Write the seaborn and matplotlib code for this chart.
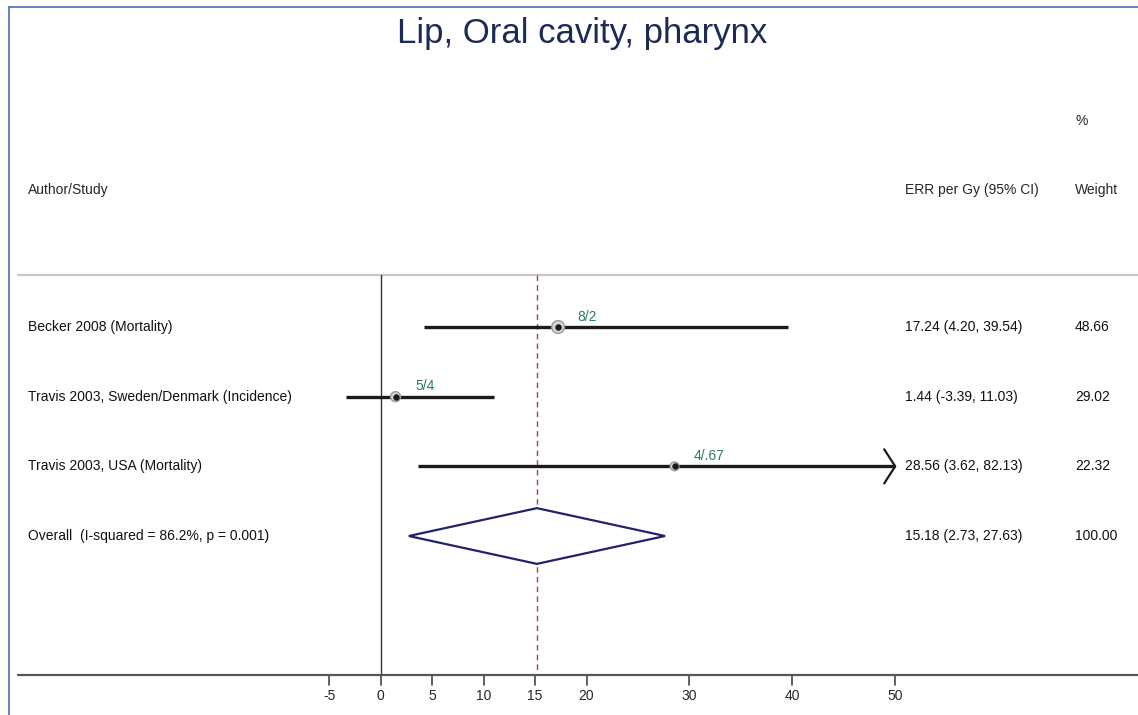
import numpy as np
import pandas as pd
import matplotlib
matplotlib.use("Agg")
import matplotlib.pyplot as plt
from matplotlib.lines import Line2D
import seaborn as sns

# ---- data ----
studies = ["Becker 2008 (Mortality)",
           "Travis 2003, Sweden/Denmark (Incidence)",
           "Travis 2003, USA (Mortality)"]
err = [17.24, 1.44, 28.56]
ci_low = [4.20, -3.39, 3.62]
ci_high = [39.54, 11.03, 82.13]
weights = [48.66, 29.02, 22.32]
point_labels = ["8/2", "5/4", "4/.67"]
overall_label = "Overall  (I-squared = 86.2%, p = 0.001)"
overall_est = 15.18
overall_low = 2.73
overall_high = 27.63
overall_weight = 100.00
xticks = [-5, 0, 5, 10, 15, 20, 30, 40, 50]
title = "Lip, Oral cavity, pharynx"

sns.set_style("white")
plt.rcParams['font.family'] = ['Liberation Sans', 'DejaVu Sans']

W, H = 1138, 715
fig = plt.figure(figsize=(W / 100, H / 100), dpi=100)
ax = fig.add_axes([0, 0, 1, 1])

# pixel -> data mapping
x0px, xscale = 380.7, 10.29
row0px, rowstep = 327.0, 69.67
xmin, xmax = -x0px / xscale, (W - x0px) / xscale
ax.set_xlim(xmin, xmax)
ax.set_ylim((H - row0px) / rowstep, -row0px / rowstep)
def ypx(p):
    return (p - row0px) / rowstep
def xpx(p):
    return (p - x0px) / xscale

clip_hi = 50.0
df = pd.DataFrame({"study": studies, "err": err, "lo": ci_low, "hi": ci_high,
                   "w": weights, "row": np.arange(len(studies))})

top = ypx(275)
axis_y = len(studies) + 2 - 0.005

# reference lines
ax.plot([xpx(18), xmax], [top, top], color="#c8c8c8", lw=1.6, zorder=1)
ax.plot([0, 0], [top, axis_y], color="#333333", lw=1.0, zorder=1)
ax.plot([overall_est, overall_est], [top, axis_y], color="#b23a48", lw=1.0,
        ls=(0, (4, 3)), zorder=1)

# CIs
for _, r in df.iterrows():
    hi = min(r.hi, clip_hi)
    ax.plot([r.lo, hi], [r.row, r.row], color="#1a1a1a", lw=2.4,
            solid_capstyle="butt", zorder=2)
    if r.hi > clip_hi:
        dx, dy = 1.07, 0.245
        ax.plot([hi - dx, hi, hi - dx], [r.row - dy, r.row, r.row + dy],
                color="#1a1a1a", lw=1.6, zorder=2)

# weight halos and points
sns.scatterplot(data=df, x="err", y="row", size="w", sizes=(40, 85),
                color="#d6d6d6", edgecolor="#9a9a9a", linewidth=1.0,
                legend=False, ax=ax, zorder=3)
sns.scatterplot(data=df, x="err", y="row", s=18, color="#1a1a1a",
                edgecolor="#1a1a1a", legend=False, ax=ax, zorder=4)
for _, r in df.iterrows():
    ax.annotate(point_labels[int(r.row)], (r.err, r.row), xytext=(14, 2.5),
                textcoords="offset points", color="#2a7a6c", fontsize=10,
                va="bottom", ha="left")

# overall diamond
orow = len(studies)
dh = 0.40
ax.fill([overall_low, overall_est, overall_high, overall_est],
        [orow, orow - dh, orow, orow + dh], facecolor="white",
        edgecolor="#23236b", lw=1.6, zorder=3)

# text columns
fs = 10
labels_all = studies + [overall_label]
ci_text = [f"{e:.2f} ({l:.2f}, {h:.2f})" for e, l, h in zip(err, ci_low, ci_high)]
ci_text.append(f"{overall_est:.2f} ({overall_low:.2f}, {overall_high:.2f})")
w_text = [f"{w:.2f}" for w in weights] + [f"{overall_weight:.2f}"]
for i, (lab, c, w) in enumerate(zip(labels_all, ci_text, w_text)):
    ax.text(xpx(28), i, lab, fontsize=fs, va="center", ha="left", color="#111111")
    ax.text(xpx(905), i, c, fontsize=fs, va="center", ha="left", color="#111111")
    ax.text(xpx(1075), i, w, fontsize=fs, va="center", ha="left", color="#111111")

ax.text(xpx(28), ypx(190), "Author/Study", fontsize=fs, va="center", ha="left")
ax.text(xpx(905), ypx(190), "ERR per Gy (95% CI)", fontsize=fs, va="center", ha="left")
ax.text(xpx(1075), ypx(190), "Weight", fontsize=fs, va="center", ha="left")
ax.text(xpx(1075), ypx(121), "%", fontsize=fs, va="center", ha="left")
ax.text(xpx(582), ypx(33), title, fontsize=25, va="center", ha="center",
        color="#1c2a55")

# x axis
for s in ["top", "left", "right", "bottom"]:
    ax.spines[s].set_visible(False)
ax.set_xlabel("")
ax.set_ylabel("")
ax.plot([xpx(18), xmax], [axis_y, axis_y], color="#555555", lw=1.6, zorder=1)
ax.set_xticks(xticks)
ax.set_yticks([])
ax.tick_params(axis="x", length=0, pad=0, labelbottom=False)
tick_len = 10 / rowstep
for t in xticks:
    ax.plot([t, t], [axis_y, axis_y + tick_len], color="#555555", lw=1.3, zorder=1)
    ax.text(t, ypx(696), str(t), fontsize=fs, ha="center", va="center")

# outer blue border
fig.add_artist(Line2D([9 / W, 9 / W], [0, 1 - 7 / H], color="#4a70b5", lw=1.2))
fig.add_artist(Line2D([9 / W, 1], [1 - 7 / H, 1 - 7 / H], color="#4a70b5", lw=1.2))

fig.savefig("out.png", dpi=100)
